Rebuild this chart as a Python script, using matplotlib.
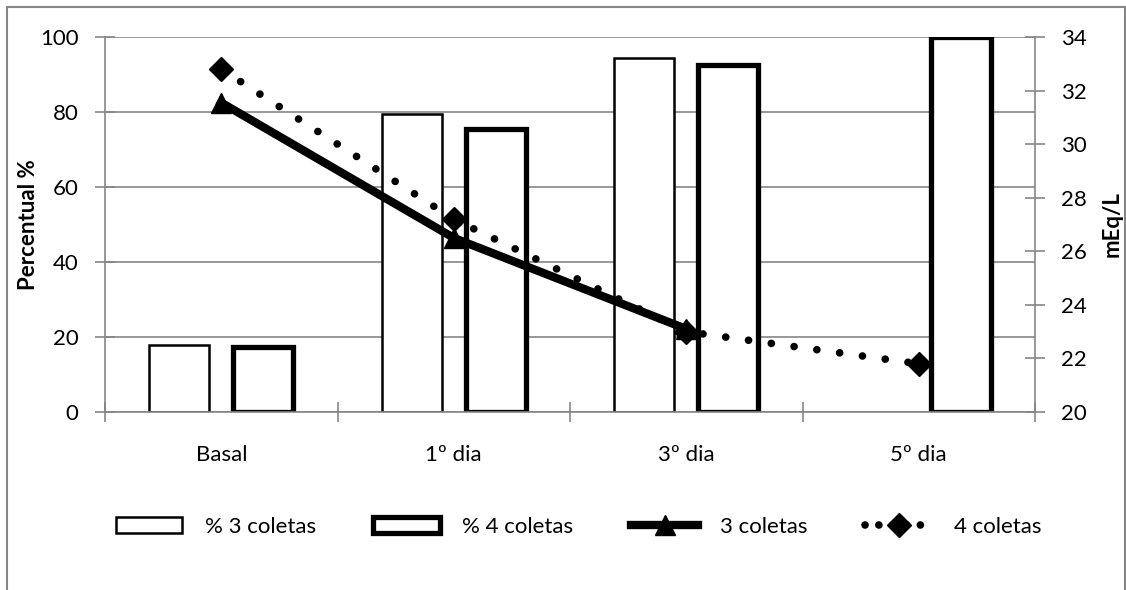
import numpy as np
import matplotlib
matplotlib.use("Agg")
import matplotlib.pyplot as plt
from matplotlib.patches import Patch, Rectangle
from matplotlib.lines import Line2D

plt.rcParams['font.family'] = ['Lato', 'DejaVu Sans']

# data
categories = ['Basal', '1º dia', '3º dia', '5º dia']
pct_3 = [17.9, 79.5, 94.4, np.nan]
pct_4 = [17.3, 75.5, 92.5, 100]
meq_3 = [31.55, 26.5, 23.1, np.nan]
meq_4 = [32.8, 27.2, 23.0, 21.8]

grey = '#868686'
fs = 16

fig = plt.figure(figsize=(11.26, 5.9), dpi=100)
ax1 = fig.add_axes([105 / 1126, 1 - 412 / 590, 930 / 1126, 375 / 590])
ax2 = ax1.twinx()

x = np.arange(len(categories))
w = 0.258
ax1.bar(x - 0.18, pct_3, w, facecolor='white', edgecolor='black', linewidth=1.8, zorder=2)
ax1.bar(x + 0.18, pct_4, w, facecolor='white', edgecolor='black', linewidth=3.8, zorder=2)

ax1.set_xlim(-0.5, 3.5)
ax1.set_ylim(0, 100)
ax1.set_yticks([0, 20, 40, 60, 80, 100])
ax1.yaxis.grid(True, color=grey, linewidth=1.2)
ax1.set_axisbelow(True)
ax1.set_xticks(x)
ax1.set_xticklabels(categories, fontsize=fs)
ax1.set_xticks(np.arange(-0.5, 4.0, 1.0), minor=True)
ax1.tick_params(axis='x', which='major', length=0, pad=24)
ax1.tick_params(axis='x', which='minor', direction='inout', length=14, color=grey, width=1.2)
ax1.tick_params(axis='y', direction='inout', length=14, color=grey, width=1.2, labelsize=fs, pad=12)
ax1.set_ylabel('Percentual %', fontsize=fs, fontweight='bold')
ax1.yaxis.set_label_coords(-0.071, 0.5)

for s in ['top', 'right']:
    ax1.spines[s].set_visible(False)
for s in ['left', 'bottom']:
    ax1.spines[s].set_color(grey)
    ax1.spines[s].set_linewidth(1.2)

ax2.plot(x, meq_3, color='black', linewidth=6, marker='^', markersize=15, zorder=3)
ax2.plot(x, meq_4, color='black', linewidth=5.5, linestyle=(0, (0.01, 3.0)),
         dash_capstyle='round', marker='D', markersize=12, zorder=4)
ax2.set_ylim(20, 34)
ax2.set_yticks(range(20, 35, 2))
ax2.tick_params(axis='y', direction='inout', length=14, color=grey, width=1.2, labelsize=fs, pad=12)
ax2.set_ylabel('mEq/L', fontsize=fs, fontweight='bold', labelpad=10)
for s in ['top', 'left', 'bottom']:
    ax2.spines[s].set_visible(False)
ax2.spines['right'].set_color(grey)
ax2.spines['right'].set_linewidth(1.2)

handles = [
    Patch(facecolor='white', edgecolor='black', linewidth=1.8),
    Patch(facecolor='white', edgecolor='black', linewidth=3.8),
    Line2D([], [], color='black', linewidth=6, marker='^', markersize=15),
    Line2D([], [], color='black', linewidth=5.5, linestyle=(0, (0.01, 1.8)),
           dash_capstyle='round', marker='D', markersize=12),
]
labels = ['% 3 coletas', '% 4 coletas', '3 coletas', '4 coletas']
fig.legend(handles, labels, loc='center', bbox_to_anchor=(0.514, 1 - 527 / 590),
           ncol=4, frameon=False, fontsize=fs, handlelength=3.0, handletextpad=1.0,
           columnspacing=2.6, numpoints=1)

fig.add_artist(Rectangle((7 / 1126, -0.05), 1118 / 1126, 1.05 - 7 / 590,
                         transform=fig.transFigure, fill=False, edgecolor=grey, linewidth=1.5))

fig.savefig('out.png', dpi=100)
